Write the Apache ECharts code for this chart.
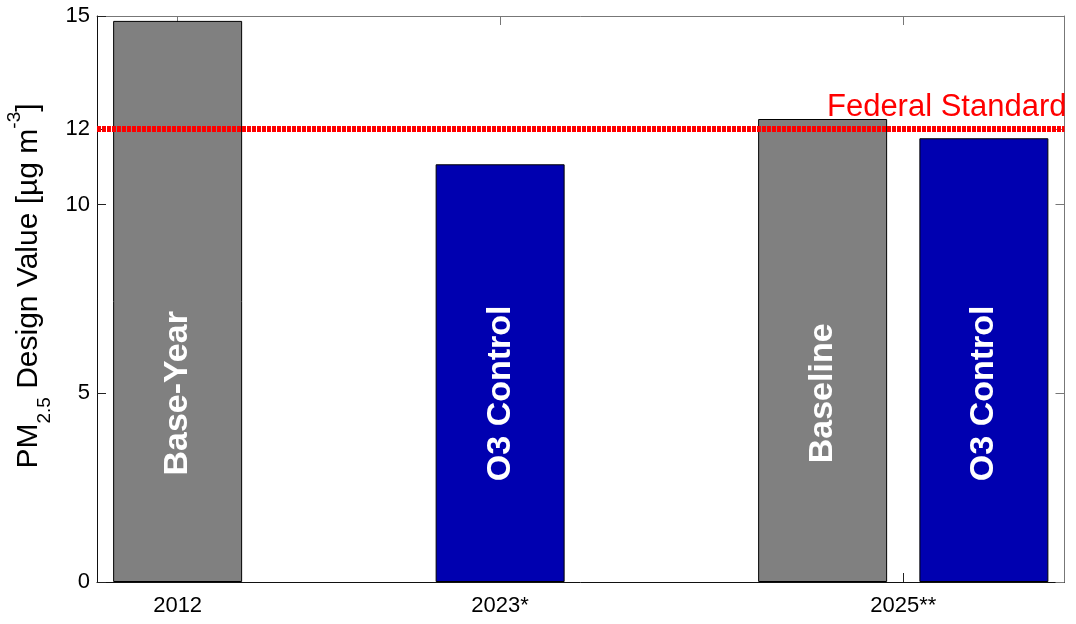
<!DOCTYPE html>
<html>
<head>
<meta charset="utf-8">
<script src="https://cdn.jsdelivr.net/npm/echarts@6/dist/echarts.min.js"></script>
<style>
  html, body { margin: 0; padding: 0; background: #ffffff; }
  #chart { width: 1076px; height: 624px; }
</style>
</head>
<body>
<div id="chart"></div>
<script>
// Scenario bars: position on the x scale, design value, label and scenario kind
const barPositions = [1, 2, 3, 3.5];
const barValues = [14.87, 11.07, 12.27, 11.76];
const barNames = ['Base-Year', 'O3 Control', 'Baseline', 'O3 Control'];
const barKinds = ['base', 'control', 'base', 'control'];

// Year ticks along the bottom
const yearTickPositions = [1, 2, 3.25];
const yearTickLabels = ['2012', '2023*', '2025**'];

// Concentration ticks
const valueTicks = [0, 5, 10, 12, 15];

// Annual PM2.5 standard
const federalStandard = 12;
const standardLabel = 'Federal Standard';

const FONT = '"Liberation Sans", Arial, Helvetica, sans-serif';
const kindColor = { base: '#808080', control: '#0000b0' };

const chart = echarts.init(document.getElementById('chart'), null, { renderer: 'canvas' });

const barData = barPositions.map((x, i) => ({
  value: [x, barValues[i]],
  itemStyle: { color: kindColor[barKinds[i]] }
}));
const labelData = barPositions.map((x, i) => ({ value: [x, 5], name: barNames[i] }));

const tickStyle = { show: true, inside: true, length: 9, lineStyle: { color: '#222', width: 1 } };

chart.setOption({
  animation: false,
  backgroundColor: '#ffffff',
  grid: { left: 97, right: 11.5, top: 16, bottom: 42, containLabel: false, outerBoundsMode: 'none' },
  xAxis: [
    {
      type: 'value', min: 0.75, max: 3.75, position: 'bottom',
      splitLine: { show: false },
      axisLine: { show: true, onZero: false, lineStyle: { color: '#111', width: 1 } },
      axisTick: Object.assign({}, tickStyle, { customValues: yearTickPositions }),
      axisLabel: {
        customValues: yearTickPositions,
        margin: 13,
        fontFamily: FONT, fontSize: 22, color: '#000',
        formatter: v => yearTickLabels[yearTickPositions.indexOf(v)] || ''
      }
    },
    {
      type: 'value', min: 0.75, max: 3.75, position: 'top',
      splitLine: { show: false },
      axisLine: { show: true, onZero: false, lineStyle: { color: '#777', width: 1 } },
      axisTick: Object.assign({}, tickStyle, { customValues: yearTickPositions, lineStyle: { color: '#777' } }),
      axisLabel: { show: false }
    }
  ],
  yAxis: [
    {
      type: 'value', min: 0, max: 15, position: 'left',
      splitLine: { show: false },
      axisLine: { show: true, onZero: false, lineStyle: { color: '#111', width: 1 } },
      axisTick: Object.assign({}, tickStyle, { customValues: valueTicks }),
      axisLabel: {
        customValues: valueTicks,
        margin: 7,
        fontFamily: FONT, fontSize: 22, color: '#000'
      },
      name: '{m|PM}{sub|2.5}{m| Design Value [µg m}{sup|-3}{m|]}',
      nameLocation: 'middle',
      nameRotate: 90,
      nameGap: 44,
      nameTextStyle: {
        fontFamily: FONT, color: '#000',
        padding: [0, 0, 0, 26],
        rich: {
          m: { fontFamily: FONT, fontSize: 30, color: '#000', lineHeight: 36, padding: [10, 0, 0, 0], verticalAlign: 'top' },
          sub: { fontFamily: FONT, fontSize: 19, color: '#000', lineHeight: 19, padding: [32, 0, 0, 0], verticalAlign: 'top' },
          sup: { fontFamily: FONT, fontSize: 19, color: '#000', lineHeight: 19, padding: [2, 0, 0, 0], verticalAlign: 'top' }
        }
      }
    },
    {
      type: 'value', min: 0, max: 15, position: 'right',
      splitLine: { show: false },
      axisLine: { show: true, onZero: false, lineStyle: { color: '#777', width: 1 } },
      axisTick: Object.assign({}, tickStyle, { customValues: valueTicks, lineStyle: { color: '#777' } }),
      axisLabel: { show: false }
    }
  ],
  series: [
    {
      type: 'bar',
      xAxisIndex: 0, yAxisIndex: 0,
      barWidth: 129,
      data: barData,
      itemStyle: { borderColor: '#000', borderWidth: 1 },
      z: 2,
      markLine: {
        silent: true,
        symbol: 'none',
        z: 5,
        lineStyle: { color: '#ff0000', width: 6, type: [4, 1], opacity: 1 },
        label: {
          show: true,
          position: 'insideEndTop',
          formatter: standardLabel,
          fontFamily: FONT, fontSize: 31, color: '#ff0000',
          distance: [-2, 6]
        },
        data: [{ yAxis: federalStandard }]
      }
    },
    {
      type: 'scatter',
      xAxisIndex: 0, yAxisIndex: 0,
      symbolSize: 0,
      data: labelData,
      z: 4,
      itemStyle: { opacity: 1 },
      label: {
        show: true,
        position: 'inside',
        rotate: 90,
        formatter: p => p.name,
        fontFamily: FONT, fontSize: 34, fontWeight: 'bold', color: '#ffffff',
        opacity: 1, textBorderWidth: 0
      }
    }
  ]
});
</script>
</body>
</html>
